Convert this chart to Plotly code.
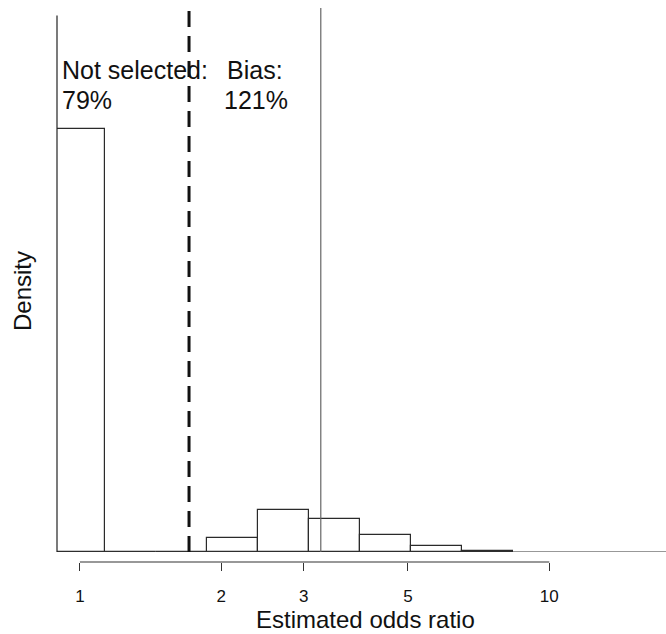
import numpy as np
import plotly.graph_objects as go

# ---- data (histogram of log odds ratio, bins of width 0.25 on ln scale) ----
bin_left_ln = [-0.125, 0.125, 0.375, 0.625, 0.875, 1.125, 1.375, 1.625, 1.875]
bin_width_ln = 0.25
density = [3.16, 0.0, 0.0, 0.107, 0.314, 0.249, 0.125, 0.045, 0.011]

tick_values = [1, 2, 3, 5, 10]
tick_labels = ["1", "2", "3", "5", "10"]

threshold_or = 1.708   # dashed line (selection threshold)
true_or = 3.26         # solid line (true odds ratio)
x_range_or = [0.8937, 17.73]
y_max = 4.063
y_axis_top = 4.007

labels_left = ["Not selected:", "79%"]
labels_right = ["Bias:", "121%"]

# ---- geometry in log10 space ----
ln10 = np.log(10)
left_l10 = np.array(bin_left_ln) / ln10
width_l10 = bin_width_ln / ln10
centers = left_l10 + width_l10 / 2

W, H = 666, 634
ml, mr, mt, mb = 57, 0, 8, 72
plot_w = W - ml - mr
paper_h = H - mt - mb
ydom0 = 10 / paper_h

def px_x(px):
    return (px - ml) / plot_w

def px_y(py):
    return (H - mb - py) / paper_h

fig = go.Figure()
fig.add_trace(go.Bar(
    x=centers, y=density, width=[width_l10] * len(density),
    marker=dict(color="white", line=dict(color="#2a2a2a", width=1.2)),
    showlegend=False, hoverinfo="skip",
))

fig.update_layout(
    width=W, height=H,
    margin=dict(l=ml, r=mr, t=mt, b=mb),
    paper_bgcolor="white", plot_bgcolor="white",
    font=dict(family="Liberation Sans, Arial, sans-serif", color="#111"),
    bargap=0,
    xaxis=dict(
        range=[np.log10(x_range_or[0]), np.log10(x_range_or[1])],
        tickvals=np.log10(tick_values), ticktext=tick_labels,
        ticks="outside", ticklen=8, tickwidth=1.2, tickcolor="#333",
        tickfont=dict(size=17, color="#111"),
        ticklabelstandoff=11,
        showline=False, showgrid=False, zeroline=False,
        anchor="free", position=0,
    ),
    yaxis=dict(
        range=[0, y_max], domain=[ydom0, 1],
        showticklabels=False, ticks="", showgrid=False, zeroline=False,
        showline=False,
    ),
)

line_col = "#222"
shapes = [
    # baseline
    dict(type="line", xref="paper", yref="y", x0=0, x1=1, y0=0, y1=0,
         line=dict(color="#333", width=1.2)),
    # y axis line
    dict(type="line", xref="paper", yref="y", x0=0, x1=0, y0=0, y1=y_axis_top,
         line=dict(color=line_col, width=1.2)),
    # x axis line from first to last tick
    dict(type="line", xref="x", yref="paper", x0=np.log10(tick_values[0]),
         x1=np.log10(tick_values[-1]), y0=0, y1=0,
         line=dict(color="#333", width=1.2)),
    # threshold dashed line
    dict(type="line", xref="x", yref="y", x0=np.log10(threshold_or), x1=np.log10(threshold_or),
         y0=0, y1=y_max, line=dict(color="#111", width=3, dash="16px,9px")),
    # true OR solid line
    dict(type="line", xref="x", yref="y", x0=np.log10(true_or), x1=np.log10(true_or),
         y0=0, y1=y_max, line=dict(color="#666", width=1.2)),
]
fig.update_layout(shapes=shapes)

ann = []
ann.append(dict(text=labels_left[0], x=px_x(60), y=px_y(70), xref="paper", yref="paper",
                xanchor="left", yanchor="middle", showarrow=False, font=dict(size=25)))
ann.append(dict(text=labels_left[1], x=px_x(60), y=px_y(100), xref="paper", yref="paper",
                xanchor="left", yanchor="middle", showarrow=False, font=dict(size=25)))
ann.append(dict(text=labels_right[0], x=px_x(225), y=px_y(70), xref="paper", yref="paper",
                xanchor="left", yanchor="middle", showarrow=False, font=dict(size=25)))
ann.append(dict(text=labels_right[1], x=px_x(222), y=px_y(100), xref="paper", yref="paper",
                xanchor="left", yanchor="middle", showarrow=False, font=dict(size=25)))
ann.append(dict(text="Estimated odds ratio", x=px_x(365), y=px_y(619), xref="paper", yref="paper",
                xanchor="center", yanchor="middle", showarrow=False, font=dict(size=24)))
ann.append(dict(text="Density", x=px_x(23), y=px_y(291), xref="paper", yref="paper",
                xanchor="center", yanchor="middle", showarrow=False, textangle=-90,
                font=dict(size=24)))
fig.update_layout(annotations=ann)

fig.write_html("out.html")
